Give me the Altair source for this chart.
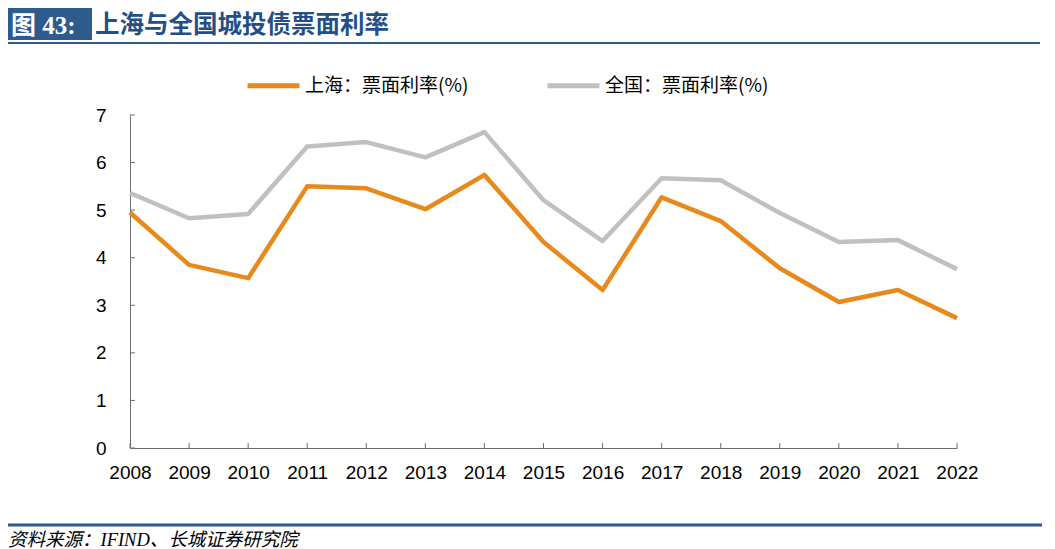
import altair as alt
import pandas as pd

# ---- data ----
years = [str(y) for y in range(2008, 2023)]
shanghai = [4.95, 3.85, 3.57, 5.50, 5.46, 5.02, 5.74, 4.33, 3.32, 5.27, 4.77, 3.78, 3.07, 3.32, 2.73]
national = [5.36, 4.83, 4.92, 6.34, 6.43, 6.11, 6.64, 5.21, 4.35, 5.67, 5.63, 4.94, 4.33, 4.37, 3.76]
series_names = ["上海：票面利率(%)", "全国：票面利率(%)"]
series_colors = ["#E8891C", "#C0C0C0"]
y_ticks = list(range(0, 8))
fig_label = "图 43:"
title_text = "上海与全国城投债票面利率"
source_text = "资料来源：IFIND、长城证券研究院"

W, H = 827, 333
BLUE = "#2E5B8E"
AXIS = "#6E6E6E"
NUM_FONT = "Liberation Sans"
CJK_FONT = "Noto Sans CJK SC"

rows = []
for i, (name, vals) in enumerate(zip(series_names, [shanghai, national])):
    for yr, v in zip(years, vals):
        rows.append({"年份": yr, "系列": name, "值": v, "order": 1 - i})
df = pd.DataFrame(rows)

x_scale = alt.Scale(type="point", padding=0, domain=years)
y_scale = alt.Scale(domain=[0, 7], nice=False, zero=True)
x_axis = alt.Axis(title=None, labelAngle=0, ticks=False, domainColor=AXIS,
                  domainWidth=1, labelFont=NUM_FONT, labelFontSize=19,
                  labelColor="#000000", labelPadding=15, grid=False)
y_axis = alt.Axis(title=None, values=y_ticks, ticks=False, domainColor=AXIS,
                  domainWidth=1, labelFont=NUM_FONT, labelFontSize=19,
                  labelColor="#000000", labelPadding=24, grid=False)

lines = alt.Chart(df).mark_line(strokeWidth=4.5, strokeJoin="round").encode(
    x=alt.X("年份:O", scale=x_scale, sort=years, axis=x_axis),
    y=alt.Y("值:Q", scale=y_scale, axis=y_axis),
    color=alt.Color("系列:N",
                    scale=alt.Scale(domain=series_names, range=series_colors),
                    legend=alt.Legend(orient="none", legendX=115, legendY=-58,
                                      direction="horizontal", title=None,
                                      symbolType="stroke", symbolSize=2704,
                                      symbolStrokeWidth=5, labelFontSize=19,
                                      labelFont=CJK_FONT, labelColor="#000000",
                                      labelOffset=3, columnPadding=68, labelLimit=400)),
    order=alt.Order("order:Q"),
)

ytick_df = pd.DataFrame({"值": y_ticks})
yticks = alt.Chart(ytick_df).mark_rule(color=AXIS, strokeWidth=1).encode(
    y=alt.Y("值:Q", scale=y_scale, axis=y_axis),
    x=alt.value(0), x2=alt.value(5),
)

xtick_df = pd.DataFrame({"年份": years})
xticks = alt.Chart(xtick_df).mark_rule(color=AXIS, strokeWidth=1).encode(
    x=alt.X("年份:O", scale=x_scale, sort=years, axis=x_axis),
    y=alt.value(H), y2=alt.value(H - 5),
)

one = pd.DataFrame({"t": [""]})

box = alt.Chart(one).mark_rect(color=BLUE).encode(
    x=alt.value(-122), x2=alt.value(-38), y=alt.value(-107), y2=alt.value(-75)
)
fig_txt = alt.Chart(pd.DataFrame({"t": [fig_label]})).mark_text(
    align="left", baseline="middle", font="Liberation Serif, Noto Sans CJK SC",
    fontSize=25, fontWeight="bold", color="#FFFFFF"
).encode(text="t:N", x=alt.value(-119), y=alt.value(-89))
title_txt = alt.Chart(pd.DataFrame({"t": [title_text]})).mark_text(
    align="left", baseline="middle", font=CJK_FONT, fontSize=24.5,
    fontWeight="bold", color="#244F86"
).encode(text="t:N", x=alt.value(-35), y=alt.value(-89))
head_line = alt.Chart(one).mark_rule(color=BLUE, strokeWidth=2).encode(
    x=alt.value(-122), x2=alt.value(910), y=alt.value(-72)
)
foot_line = alt.Chart(one).mark_rule(color=BLUE, strokeWidth=3).encode(
    x=alt.value(-122), x2=alt.value(912), y=alt.value(410)
)
source_txt = alt.Chart(pd.DataFrame({"t": [source_text]})).mark_text(
    align="left", baseline="middle", font="Liberation Serif, Noto Sans CJK SC",
    fontSize=18.5, fontStyle="italic", color="#000000"
).encode(text="t:N", x=alt.value(-122), y=alt.value(425))

chart = alt.layer(
    box, fig_txt, title_txt, head_line, foot_line, source_txt,
    yticks, xticks, lines
).properties(
    width=W, height=H,
    background="#FFFFFF",
    padding={"left": 122, "top": 107, "right": 90, "bottom": 101},
    autosize=alt.AutoSizeParams(type="none"),
).configure_view(stroke=None)

chart.save("out.html", embed_options={"renderer": "svg", "actions": False})
